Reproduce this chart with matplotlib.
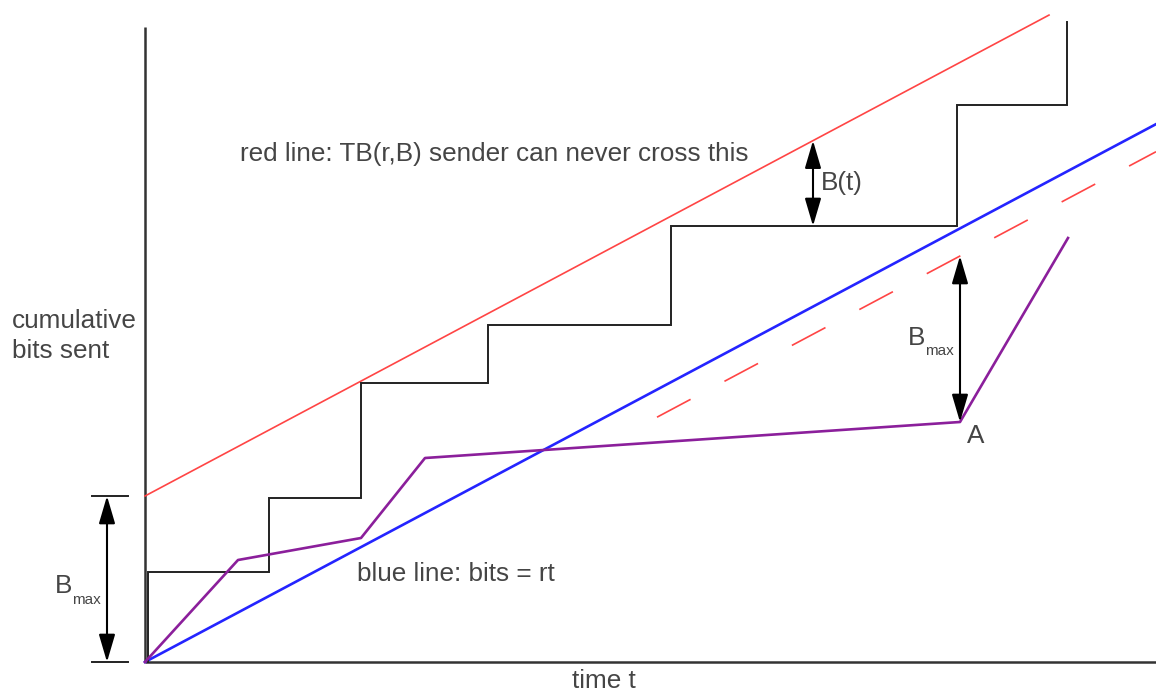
import matplotlib
matplotlib.use("Agg")
import matplotlib.pyplot as plt
import numpy as np

plt.rcParams['font.family'] = ['Liberation Sans', 'DejaVu Sans']
plt.rcParams['lines.scale_dashes'] = False

# Token bucket parameters (time and bits in arbitrary units)
rate = 0.532          # r
bucket = 16.6         # B_max
t_end = 101.1
t_red_end = 90.4

# Sender output: bursts at these times, reaching these cumulative levels
burst_times = [0.3, 12.4, 21.6, 34.3, 52.6, 81.2, 92.2]
burst_levels = [9.0, 16.4, 27.9, 33.7, 43.6, 55.7, 64.0]

# Arrival curve of another flow (purple), with point A
flow_t = [0.0, 9.3, 21.6, 28.0, 81.5, 92.3]
flow_bits = [0.0, 10.2, 12.4, 20.4, 24.0, 42.4]
point_a = (81.5, 24.0)

# B(t) marker position
bt_time = 66.8

text_color = '#454545'
fs = 18.8
fs_sub = 11

fig = plt.figure(figsize=(11.56, 6.96), dpi=100)
ax = fig.add_axes([0, 0, 1, 1])
ax.set_xlim(-14.5, 101.1)
ax.set_ylim(-3.4, 66.2)
ax.axis('off')

# axes lines
ax.plot([0, 0], [0, 63.5], color='#333333', lw=1.8, solid_capstyle='butt')
ax.plot([0, t_end], [0, 0], color='#333333', lw=1.8, solid_capstyle='butt')

# red line: token bucket upper bound B + r t
t_red = np.array([0, t_red_end])
ax.plot(t_red, bucket + rate * t_red, color='#ff4545', lw=1.2)

# blue line: r t
t_blue = np.array([0, t_end])
ax.plot(t_blue, rate * t_blue, color='#2424ff', lw=1.9)

# red dashed: bound starting from point A
t_dash = np.array([51.2, t_end])
ax.plot(t_dash, point_a[1] + bucket + rate * (t_dash - point_a[0]),
        color='#ff4545', lw=1.2, dashes=(27.4, 27.6))

# staircase of the token bucket sender
sx, sy = [burst_times[0]], [0.0]
for i, (bt, lv) in enumerate(zip(burst_times, burst_levels)):
    sx.append(bt); sy.append(lv)
    if i + 1 < len(burst_times):
        sx.append(burst_times[i + 1]); sy.append(lv)
ax.plot(sx, sy, color='#222222', lw=1.4, solid_joinstyle='miter')

# purple flow
ax.plot(flow_t, flow_bits, color='#8b1f9b', lw=1.9)

arrow_kw = dict(arrowstyle='<|-|>,head_length=1.7,head_width=0.5',
                color='black', lw=1.5, shrinkA=0, shrinkB=0, mutation_scale=10)

# B_max bracket on the left
ax.plot([-5.3, -1.7], [bucket, bucket], color='#222222', lw=1.4)
ax.plot([-5.3, -1.7], [0, 0], color='#222222', lw=1.4)
ax.annotate('', xy=(-3.8, 0), xytext=(-3.8, bucket), arrowprops=arrow_kw)
ax.text(-9.0, 6.9, 'B', fontsize=fs, color=text_color, va='baseline', ha='left')
ax.text(-7.3, 5.8, 'max', fontsize=fs_sub, color=text_color, va='baseline', ha='left')

# B(t) arrow between red line and staircase
ax.annotate('', xy=(bt_time, 43.6), xytext=(bt_time, bucket + rate * bt_time),
            arrowprops=arrow_kw)
ax.text(67.6, 47.2, 'B(t)', fontsize=fs, color=text_color, va='baseline', ha='left')

# B_max arrow above point A
ax.annotate('', xy=(point_a[0], point_a[1]), xytext=(point_a[0], point_a[1] + bucket),
            arrowprops=arrow_kw)
ax.text(76.3, 31.7, 'B', fontsize=fs, color=text_color, va='baseline', ha='left')
ax.text(78.0, 30.7, 'max', fontsize=fs_sub, color=text_color, va='baseline', ha='left')
ax.text(82.2, 21.9, 'A', fontsize=fs, color=text_color, va='baseline', ha='left')

# annotations
ax.text(9.5, 50.1, 'red line: TB(r,B) sender can never cross this', fontsize=fs,
        color=text_color, va='baseline', ha='left')
ax.text(21.2, 8.1, 'blue line: bits = rt', fontsize=fs, color=text_color,
        va='baseline', ha='left')
ax.text(-13.3, 33.4, 'cumulative', fontsize=fs, color=text_color, va='baseline', ha='left')
ax.text(-13.3, 30.4, 'bits sent', fontsize=fs, color=text_color, va='baseline', ha='left')
ax.text(45.9, -2.6, 'time t', fontsize=fs, color=text_color, va='baseline', ha='center')

fig.savefig('out.png', dpi=100)
